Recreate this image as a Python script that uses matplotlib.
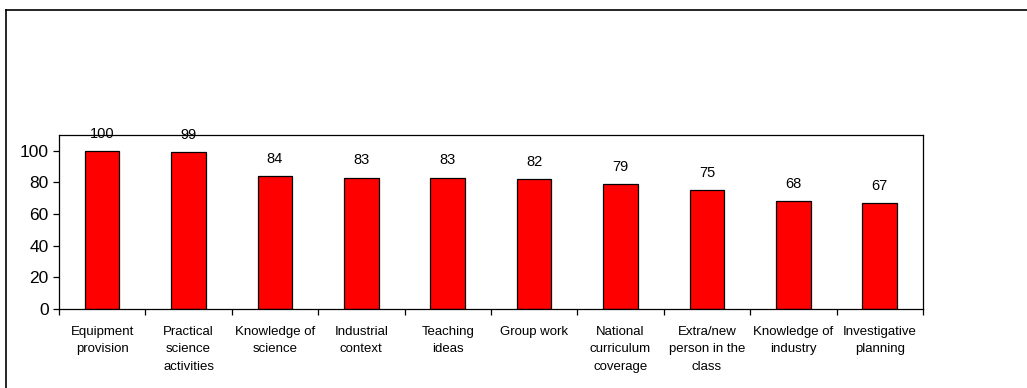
import matplotlib.pyplot as plt
from matplotlib.lines import Line2D

plt.rcParams['font.family'] = ['Liberation Sans', 'DejaVu Sans']

# Data
categories = ["Equipment\nprovision", "Practical\nscience\nactivities", "Knowledge of\nscience",
              "Industrial\ncontext", "Teaching\nideas", "Group work",
              "National\ncurriculum\ncoverage", "Extra/new\nperson in the\nclass",
              "Knowledge of\nindustry", "Investigative\nplanning"]
values = [100, 99, 84, 83, 83, 82, 79, 75, 68, 67]

fig = plt.figure(figsize=(10.27, 3.88), dpi=100)
ax = fig.add_axes([0.0574, 0.2036, 0.8413, 0.4484])

x = list(range(len(values)))
bars = ax.bar(x, values, width=0.4, color='#ff0000', edgecolor='black', linewidth=0.9)

# Value labels
for xi, v in zip(x, values):
    ax.text(xi, v + 6.5, str(v), ha='center', va='bottom', fontsize=10.5)

ax.set_xlim(-0.5, len(values) - 0.5)
ax.set_ylim(0, 110)
ax.set_yticks(range(0, 101, 20))
ax.tick_params(axis='y', labelsize=12.5, length=4, width=0.9, pad=3.5, direction='out')

# x ticks sit between categories, labels at the centres
ax.set_xticks([i - 0.5 for i in range(len(values) + 1)])
ax.set_xticklabels([])
ax.tick_params(axis='x', which='major', length=4, width=0.9, direction='out')
ax.set_xticks(x, minor=True)
ax.set_xticklabels(categories, minor=True, fontsize=9.5, linespacing=1.62, va='top')
ax.tick_params(axis='x', which='minor', length=0, pad=12)

for s in ax.spines.values():
    s.set_linewidth(0.9)

# Outer frame (only top and left edges show)
fig.add_artist(Line2D([0.0063, 0.0063], [0.0, 0.974], color='black', lw=1.2, transform=fig.transFigure))
fig.add_artist(Line2D([0.0063, 1.0], [0.974, 0.974], color='black', lw=1.2, transform=fig.transFigure))

fig.savefig('out.png', dpi=100)
